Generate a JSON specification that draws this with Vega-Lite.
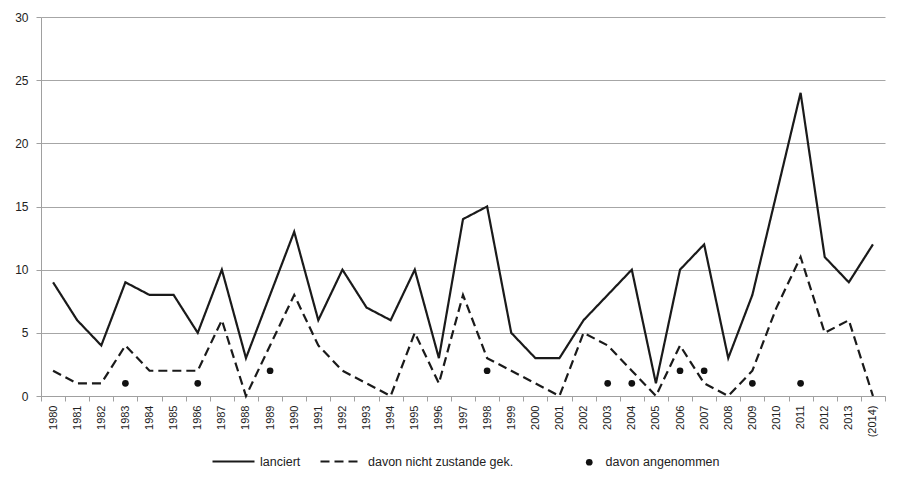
{
  "$schema": "https://vega.github.io/schema/vega-lite/v6.json",
  "autosize": "none",
  "width": 844,
  "height": 379,
  "padding": {"left": 41, "top": 17, "right": 19, "bottom": 94},
  "background": "white",
  "config": {
    "font": "Liberation Sans, sans-serif",
    "view": {"stroke": null},
    "axis": {"labelColor": "#222", "labelFont": "Liberation Sans, sans-serif"}
  },
  "data": {
    "values": [
      {"year": "1980", "series": "lanciert", "value": 9},
      {"year": "1981", "series": "lanciert", "value": 6},
      {"year": "1982", "series": "lanciert", "value": 4},
      {"year": "1983", "series": "lanciert", "value": 9},
      {"year": "1984", "series": "lanciert", "value": 8},
      {"year": "1985", "series": "lanciert", "value": 8},
      {"year": "1986", "series": "lanciert", "value": 5},
      {"year": "1987", "series": "lanciert", "value": 10},
      {"year": "1988", "series": "lanciert", "value": 3},
      {"year": "1989", "series": "lanciert", "value": 8},
      {"year": "1990", "series": "lanciert", "value": 13},
      {"year": "1991", "series": "lanciert", "value": 6},
      {"year": "1992", "series": "lanciert", "value": 10},
      {"year": "1993", "series": "lanciert", "value": 7},
      {"year": "1994", "series": "lanciert", "value": 6},
      {"year": "1995", "series": "lanciert", "value": 10},
      {"year": "1996", "series": "lanciert", "value": 3},
      {"year": "1997", "series": "lanciert", "value": 14},
      {"year": "1998", "series": "lanciert", "value": 15},
      {"year": "1999", "series": "lanciert", "value": 5},
      {"year": "2000", "series": "lanciert", "value": 3},
      {"year": "2001", "series": "lanciert", "value": 3},
      {"year": "2002", "series": "lanciert", "value": 6},
      {"year": "2003", "series": "lanciert", "value": 8},
      {"year": "2004", "series": "lanciert", "value": 10},
      {"year": "2005", "series": "lanciert", "value": 1},
      {"year": "2006", "series": "lanciert", "value": 10},
      {"year": "2007", "series": "lanciert", "value": 12},
      {"year": "2008", "series": "lanciert", "value": 3},
      {"year": "2009", "series": "lanciert", "value": 8},
      {"year": "2010", "series": "lanciert", "value": 16},
      {"year": "2011", "series": "lanciert", "value": 24},
      {"year": "2012", "series": "lanciert", "value": 11},
      {"year": "2013", "series": "lanciert", "value": 9},
      {"year": "(2014)", "series": "lanciert", "value": 12},
      {"year": "1980", "series": "davon nicht zustande gek.", "value": 2},
      {"year": "1981", "series": "davon nicht zustande gek.", "value": 1},
      {"year": "1982", "series": "davon nicht zustande gek.", "value": 1},
      {"year": "1983", "series": "davon nicht zustande gek.", "value": 4},
      {"year": "1984", "series": "davon nicht zustande gek.", "value": 2},
      {"year": "1985", "series": "davon nicht zustande gek.", "value": 2},
      {"year": "1986", "series": "davon nicht zustande gek.", "value": 2},
      {"year": "1987", "series": "davon nicht zustande gek.", "value": 6},
      {"year": "1988", "series": "davon nicht zustande gek.", "value": 0},
      {"year": "1989", "series": "davon nicht zustande gek.", "value": 4},
      {"year": "1990", "series": "davon nicht zustande gek.", "value": 8},
      {"year": "1991", "series": "davon nicht zustande gek.", "value": 4},
      {"year": "1992", "series": "davon nicht zustande gek.", "value": 2},
      {"year": "1993", "series": "davon nicht zustande gek.", "value": 1},
      {"year": "1994", "series": "davon nicht zustande gek.", "value": 0},
      {"year": "1995", "series": "davon nicht zustande gek.", "value": 5},
      {"year": "1996", "series": "davon nicht zustande gek.", "value": 1},
      {"year": "1997", "series": "davon nicht zustande gek.", "value": 8},
      {"year": "1998", "series": "davon nicht zustande gek.", "value": 3},
      {"year": "1999", "series": "davon nicht zustande gek.", "value": 2},
      {"year": "2000", "series": "davon nicht zustande gek.", "value": 1},
      {"year": "2001", "series": "davon nicht zustande gek.", "value": 0},
      {"year": "2002", "series": "davon nicht zustande gek.", "value": 5},
      {"year": "2003", "series": "davon nicht zustande gek.", "value": 4},
      {"year": "2004", "series": "davon nicht zustande gek.", "value": 2},
      {"year": "2005", "series": "davon nicht zustande gek.", "value": 0},
      {"year": "2006", "series": "davon nicht zustande gek.", "value": 4},
      {"year": "2007", "series": "davon nicht zustande gek.", "value": 1},
      {"year": "2008", "series": "davon nicht zustande gek.", "value": 0},
      {"year": "2009", "series": "davon nicht zustande gek.", "value": 2},
      {"year": "2010", "series": "davon nicht zustande gek.", "value": 7},
      {"year": "2011", "series": "davon nicht zustande gek.", "value": 11},
      {"year": "2012", "series": "davon nicht zustande gek.", "value": 5},
      {"year": "2013", "series": "davon nicht zustande gek.", "value": 6},
      {"year": "(2014)", "series": "davon nicht zustande gek.", "value": 0},
      {"year": "1983", "series": "davon angenommen", "value": 1},
      {"year": "1986", "series": "davon angenommen", "value": 1},
      {"year": "1989", "series": "davon angenommen", "value": 2},
      {"year": "1998", "series": "davon angenommen", "value": 2},
      {"year": "2003", "series": "davon angenommen", "value": 1},
      {"year": "2004", "series": "davon angenommen", "value": 1},
      {"year": "2006", "series": "davon angenommen", "value": 2},
      {"year": "2007", "series": "davon angenommen", "value": 2},
      {"year": "2009", "series": "davon angenommen", "value": 1},
      {"year": "2011", "series": "davon angenommen", "value": 1}
    ]
  },
  "encoding": {
    "x": {
      "field": "year", "type": "ordinal", "sort": null,
      "scale": {"paddingInner": 0, "paddingOuter": 0, "domain": ["1980","1981","1982","1983","1984","1985","1986","1987","1988","1989","1990","1991","1992","1993","1994","1995","1996","1997","1998","1999","2000","2001","2002","2003","2004","2005","2006","2007","2008","2009","2010","2011","2012","2013","(2014)"]},
      "axis": {"title": null, "labelAngle": 270, "labelFontSize": 11, "labelPadding": 4, "tickBand": "extent", "tickSize": 5, "tickColor": "#a0a0a0", "domainColor": "#a0a0a0", "grid": false}
    },
    "y": {
      "field": "value", "type": "quantitative",
      "scale": {"domain": [0, 30], "nice": false},
      "axis": {"title": null, "values": [0,5,10,15,20,25,30], "labelFontSize": 12, "labelPadding": 8, "tickSize": 5, "tickColor": "#a0a0a0", "domainColor": "#a0a0a0", "gridColor": "#a6a6a6", "gridWidth": 1}
    }
  },
  "layer": [
    {
      "transform": [{"filter": "datum.series !== 'davon angenommen'"}],
      "mark": {"type": "line", "strokeWidth": 2.2, "color": "#1a1a1a"},
      "encoding": {
        "detail": {"field": "series"},
        "strokeDash": {
          "field": "series", "type": "nominal",
          "scale": {"domain": ["lanciert", "davon nicht zustande gek."], "range": [[1, 0], [9, 5]]},
          "legend": {"title": null, "orient": "none", "direction": "horizontal", "legendX": 170, "legendY": 422, "symbolType": "stroke", "symbolSize": 1764, "symbolStrokeWidth": 2.2, "symbolStrokeColor": "#1a1a1a", "labelFontSize": 12.5, "labelOffset": 4, "columnPadding": 15, "labelColor": "#222"}
        }
      }
    },
    {
      "transform": [{"filter": "datum.series === 'davon angenommen'"}],
      "mark": {"type": "point", "filled": true, "color": "#111", "size": 45, "opacity": 1},
      "encoding": {
        "shape": {
          "field": "series", "type": "nominal",
          "scale": {"range": ["circle"]},
          "legend": {"title": null, "orient": "none", "direction": "horizontal", "legendX": 542, "legendY": 439, "symbolSize": 45, "symbolFillColor": "#111", "symbolStrokeColor": "#111", "labelFontSize": 12.5, "labelOffset": 10, "labelColor": "#222"}
        }
      }
    }
  ]
}
